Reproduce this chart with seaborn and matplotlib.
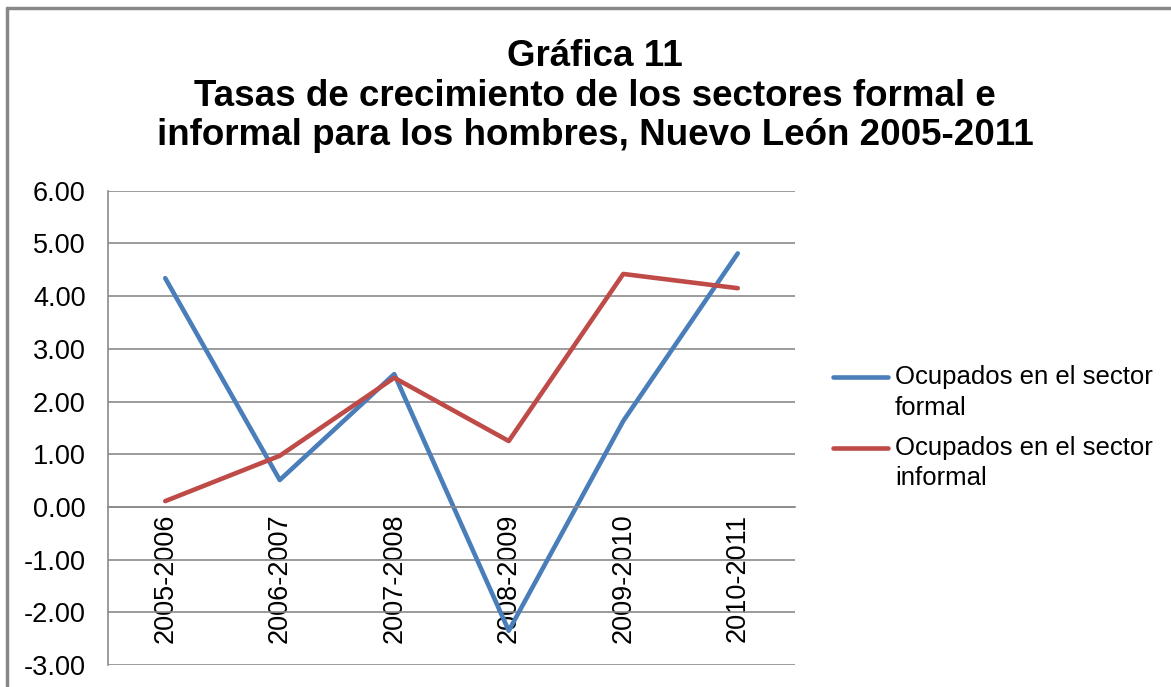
import matplotlib
matplotlib.use("Agg")
import matplotlib.pyplot as plt
from matplotlib.lines import Line2D
from matplotlib.legend_handler import HandlerLine2D
import seaborn as sns
import pandas as pd

periodos = ["2005-2006", "2006-2007", "2007-2008", "2008-2009", "2009-2010", "2010-2011"]
formal = [4.34, 0.51, 2.52, -2.35, 1.63, 4.81]
informal = [0.11, 0.97, 2.45, 1.25, 4.42, 4.15]
serie_nombres = ["Ocupados en el sector\nformal", "Ocupados en el sector\ninformal"]
colores = ["#4A7EBB", "#BE4B48"]
y_ticks = [6, 5, 4, 3, 2, 1, 0, -1, -2, -3]
titulo = "Gráfica 11\nTasas de crecimiento de los sectores formal e\ninformal para los hombres, Nuevo León 2005-2011"

df = pd.DataFrame({
    "pos": list(range(len(periodos))) * 2,
    "valor": formal + informal,
    "serie": [serie_nombres[0]] * len(periodos) + [serie_nombres[1]] * len(periodos),
})

sns.set_theme(style="white")
plt.rcParams["font.family"] = ["Liberation Sans", "DejaVu Sans"]
plt.rcParams["text.color"] = "black"

FS = 19.5
FS_LEG = 18.5
W, H = 1171, 687
fig = plt.figure(figsize=(W / 100, H / 100), dpi=100)
ax = fig.add_axes([108 / W, 1 - 665 / H, (795 - 108) / W, (665 - 190.7) / H])

sns.lineplot(data=df, x="pos", y="valor", hue="serie", palette=colores,
             linewidth=3.3, ax=ax, legend=False, sort=False)

# horizontal category axis crosses the value axis at zero
ax.spines["bottom"].set_position(("data", 0))
for side in ("bottom", "left"):
    ax.spines[side].set_color("#8a8a8a")
    ax.spines[side].set_linewidth(1.2)
ax.spines["top"].set_visible(False)
ax.spines["right"].set_visible(False)

ax.set_xlim(-0.5, len(periodos) - 0.5)
ax.set_ylim(-3, 6)
ax.set_yticks(y_ticks)
ax.set_yticklabels([f"{v:.2f}" for v in y_ticks])
ax.set_xticks(range(len(periodos)))
ax.set_xticklabels(periodos)
ax.yaxis.grid(True, color="#8a8a8a", linewidth=1.2)
ax.xaxis.grid(False)
ax.set_axisbelow(True)
ax.tick_params(axis="x", length=0, pad=5, labelsize=FS, labelrotation=90, labelcolor="black")
ax.tick_params(axis="y", length=0, pad=16, labelsize=FS, labelcolor="black")
for t in ax.get_xticklabels():
    t.set_verticalalignment("top")
ax.set_xlabel("")
ax.set_ylabel("")


class FirstLineHandler(HandlerLine2D):
    """Places the legend line beside the first line of a two-line label."""
    def create_artists(self, legend, orig_handle, xdescent, ydescent, width, height,
                       fontsize, trans):
        arts = super().create_artists(legend, orig_handle, xdescent, ydescent, width,
                                      height, fontsize, trans)
        for a in arts:
            a.set_ydata([v + 0.62 * fontsize for v in a.get_ydata()])
        return arts


handles = [Line2D([0], [0], color=c, linewidth=3.3) for c in colores]
leg = fig.legend(handles, serie_nombres, loc="upper left",
                 bbox_to_anchor=(810 / W, 1 - 342 / H),
                 frameon=False, fontsize=FS_LEG, handlelength=2.14, handletextpad=0.27,
                 labelspacing=0.62, handler_map={Line2D: FirstLineHandler()})
for t in leg.get_texts():
    t.set_linespacing(1.35)

fig.text(595 / W, 1 - 39 / H, titulo, ha="center", va="top", fontsize=26.5,
         fontweight="bold", linespacing=1.17, color="black")

# outer chart-area frame (top and left edges)
fig.add_artist(Line2D([7 / W, 1], [1 - 8 / H, 1 - 8 / H], color="#888888", linewidth=2.5,
                      transform=fig.transFigure))
fig.add_artist(Line2D([7 / W, 7 / W], [0, 1 - 8 / H], color="#888888", linewidth=2.5,
                      transform=fig.transFigure))

fig.savefig("out.png", dpi=100, facecolor="white")
